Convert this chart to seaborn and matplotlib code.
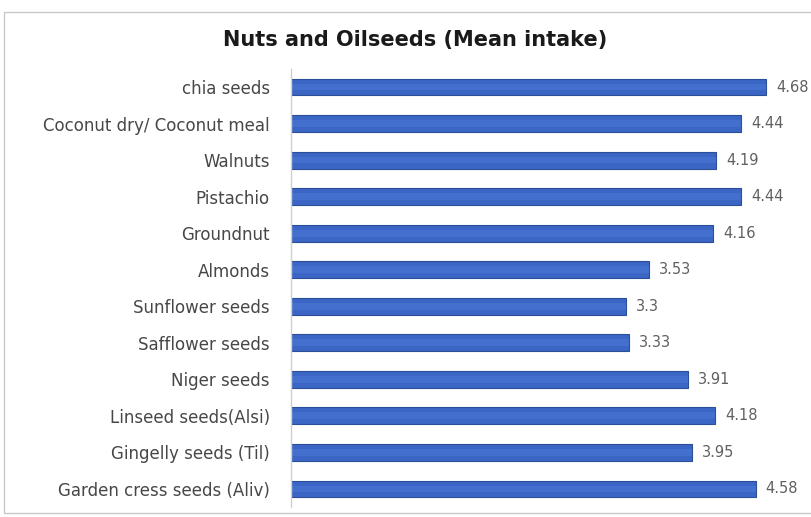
import matplotlib
matplotlib.use("Agg")
import matplotlib.pyplot as plt
import matplotlib.patches as mpatches
import seaborn as sns
import pandas as pd

foods = [
    "chia seeds",
    "Coconut dry/ Coconut meal",
    "Walnuts",
    "Pistachio",
    "Groundnut",
    "Almonds",
    "Sunflower seeds",
    "Safflower seeds",
    "Niger seeds",
    "Linseed seeds(Alsi)",
    "Gingelly seeds (Til)",
    "Garden cress seeds (Aliv)",
]
mean_intake = [4.68, 4.44, 4.19, 4.44, 4.16, 3.53, 3.3, 3.33, 3.91, 4.18, 3.95, 4.58]
value_labels = ["4.68", "4.44", "4.19", "4.44", "4.16", "3.53", "3.3", "3.33",
                "3.91", "4.18", "3.95", "4.58"]

df = pd.DataFrame({"food": foods, "intake": mean_intake})

sns.set_theme(style="white")
plt.rcParams["font.family"] = ["DejaVu Sans"]

fig = plt.figure(figsize=(8.12, 5.17), dpi=100)
ax = fig.add_axes([0.358, 0.019, 0.625, 0.848])

sns.barplot(data=df, x="intake", y="food", orient="h", color="#3b66c5",
            width=0.46, edgecolor="#2c4e98", linewidth=0.8, saturation=1, ax=ax)

# lighter stripe through the middle of each bar for a soft gradient look
for patch in ax.patches:
    x0, y0 = patch.get_x(), patch.get_y()
    w, h = patch.get_width(), patch.get_height()
    ax.add_patch(mpatches.Rectangle((x0, y0 + h * 0.3), w, h * 0.4,
                                    facecolor="#4a78d6", edgecolor="none",
                                    alpha=0.6, zorder=patch.get_zorder() + 0.1))

for i, (v, lab) in enumerate(zip(mean_intake, value_labels)):
    ax.text(v + 0.1, i, lab, va="center", ha="left", fontsize=10.5,
            color="#606060")

ax.set_xlim(0, 5)
ax.set_ylim(11.5, -0.5)
ax.set_xlabel("")
ax.set_ylabel("")
ax.set_xticks([])
ax.tick_params(axis="y", length=0, pad=15, labelsize=12, labelcolor="#474747")
for s in ["top", "right", "bottom"]:
    ax.spines[s].set_visible(False)
ax.spines["left"].set_color("#d0d0d0")
ax.spines["left"].set_linewidth(1.0)

fig.text(0.511, 0.923, "Nuts and Oilseeds (Mean intake)", ha="center", va="center",
         fontsize=15, fontweight="bold", color="#1a1a1a")

# outer chart frame
fig.add_artist(mpatches.Rectangle((4 / 812, 4 / 517), 1.2, 1 - 16 / 517,
                                  transform=fig.transFigure, fill=False,
                                  edgecolor="#c8c8c8", linewidth=1.0))

fig.savefig("out.png", dpi=100)
